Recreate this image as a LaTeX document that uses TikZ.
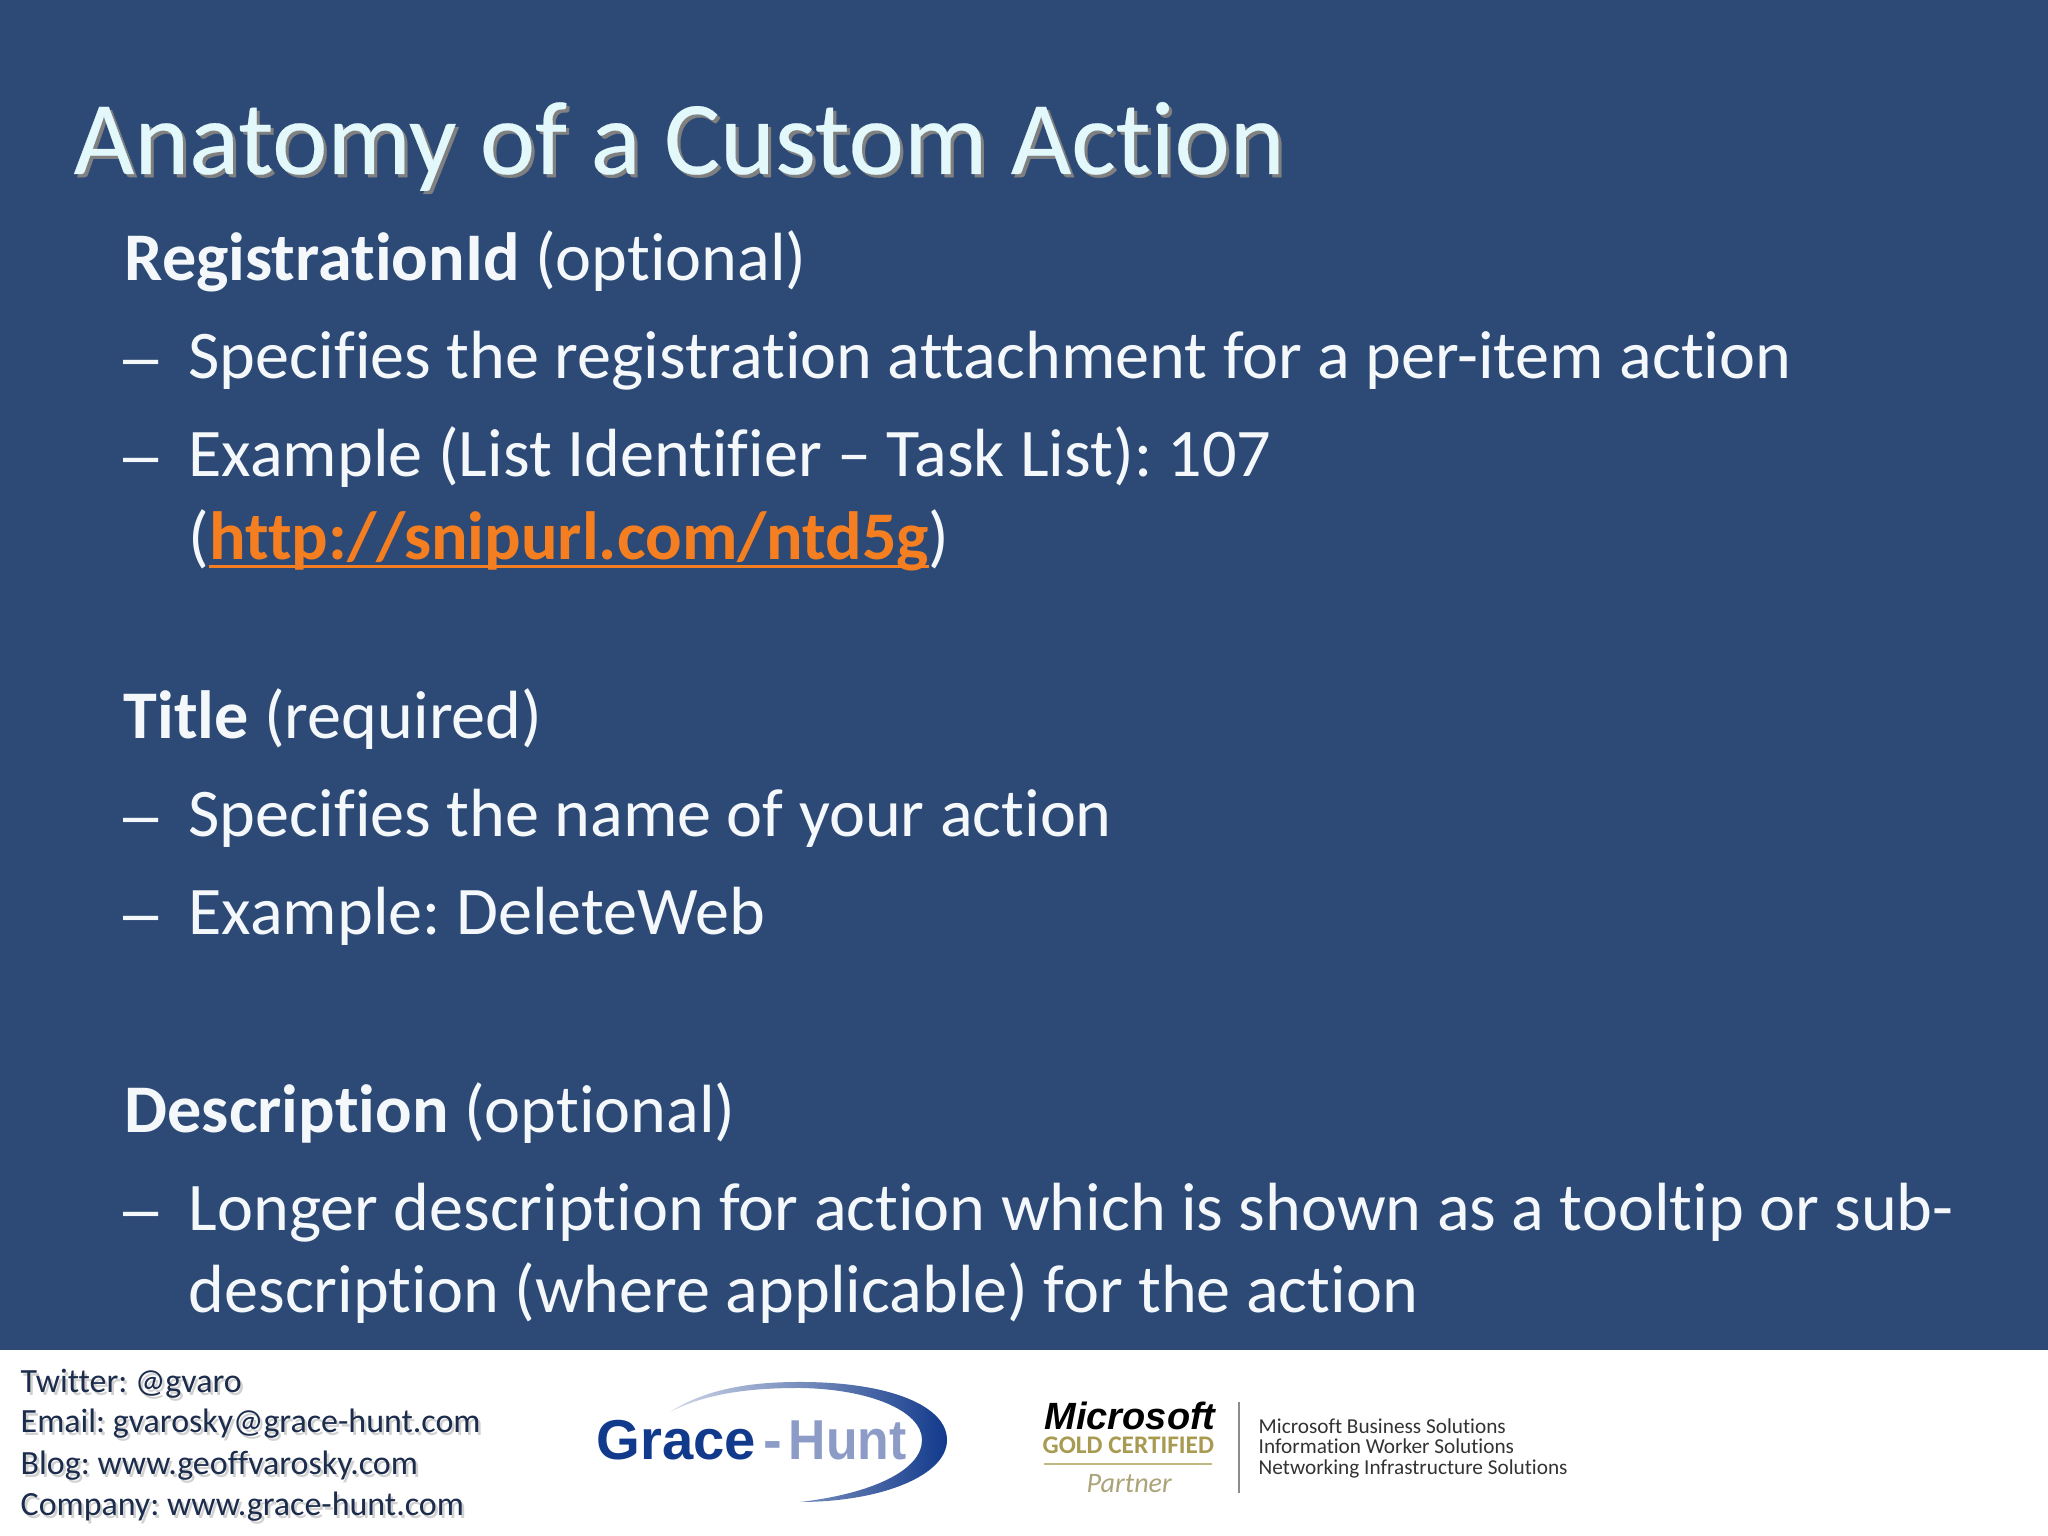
\documentclass[tikz,border=0pt]{standalone}
\usepackage{fontspec}
\setmainfont{Carlito}[RawFeature=-liga]
\newfontfamily\titlefont{Carlito}[RawFeature=-liga, FakeBold=0.25]
\newfontfamily\logofont{Liberation Sans}
\usepackage{xcolor}
\usepackage{tikz}
\usetikzlibrary{positioning}
\definecolor{slideblue}{HTML}{2D4A76}
\definecolor{titlecyan}{HTML}{E2F8FB}
\definecolor{bodywhite}{HTML}{F4F8FB}
\definecolor{linkorange}{HTML}{F57F20}
\definecolor{footnavy}{HTML}{1C2C4C}
\definecolor{logoblue}{HTML}{123A8C}
\definecolor{logohunt}{HTML}{8C9CC6}
\definecolor{logogold}{HTML}{A89A50}
\newcommand{\offsetshadow}[3]{\leavevmode\rlap{\kern#2\raisebox{-#2}{\color{#1}#3}}#3}
\newcommand{\linkrule}[1]{\setbox0\hbox{#1}\rlap{\rule[-2.4pt]{\wd0}{.9pt}}\box0}
\tikzset{
every node/.style={inner sep=0pt, anchor=base west},
slidetitle/.style={font=\fontsize{29.75}{32}\titlefont\frenchspacing, text=titlecyan},
heading/.style={font=\fontsize{19.4}{22}\selectfont\frenchspacing, text=bodywhite},
bullet/.style={font=\fontsize{19.4}{22}\selectfont\frenchspacing, text=bodywhite},
dashmark/.style={font=\fontsize{18}{22}\logofont, text=bodywhite},
contact/.style={font=\fontsize{9.65}{12}\selectfont\frenchspacing, text=footnavy},
solutions/.style={font=\fontsize{6.05}{7}\selectfont, text=black!80},
logoword/.style={font=\fontsize{16}{17}\logofont\bfseries},
}
\begin{document}
\begin{tikzpicture}
  \fill[slideblue] (0,0) rectangle (20.48,15.36);
  \fill[white] (0,0) rectangle (20.48,1.86);
  % title
  \node[slidetitle] (title) at (.73,13.62) {\offsetshadow{black!50}{.9pt}{Anatomy of a Custom Action}};
  % first block
  \node[heading] (regid) at (1.24,12.55) {\textbf{RegistrationId} (optional)};
  \node[dashmark] (regdash1) at (1.23,11.57) {–};
  \node[bullet] (regtext1) at (1.88,11.57) {Specifies the registration attachment for a per-item action};
  \node[dashmark] (regdash2) at (1.23,10.59) {–};
  \node[bullet] (regtext2) at (1.88,10.59) {Example (List Identifier – Task List): 107};
  \node[bullet] (reglink) at (1.88,9.76) {(\textcolor{linkorange}{\linkrule{\textbf{http://snipurl.com/ntd5g}}})};
  % second block
  \node[heading] (ttl) at (1.23,7.97) {\textbf{Title} (required)};
  \node[dashmark] (ttldash1) at (1.23,6.99) {–};
  \node[bullet] (ttltext1) at (1.88,6.99) {Specifies the name of your action};
  \node[dashmark] (ttldash2) at (1.23,6.01) {–};
  \node[bullet] (ttltext2) at (1.88,6.01) {Example: DeleteWeb};
  % third block
  \node[heading] (desc) at (1.24,4.03) {\textbf{Description} (optional)};
  \node[dashmark] (descdash) at (1.23,3.05) {–};
  \node[bullet] (desctext1) at (1.88,3.05) {Longer description for action which is shown as a tooltip or sub-};
  \node[bullet] (desctext2) at (1.88,2.23) {description (where applicable) for the action};
  % footer
  \node[contact] (twitter) at (.20,1.43) {\offsetshadow{black!18}{.7pt}{Twitter: @gvaro}};
  \node[contact] (email) at (.20,1.03) {\offsetshadow{black!18}{.7pt}{Email: gvarosky@grace-hunt.com}};
  \node[contact] (blog) at (.20,.61) {\offsetshadow{black!18}{.7pt}{Blog: www.geoffvarosky.com}};
  \node[contact] (company) at (.20,.20) {\offsetshadow{black!18}{.7pt}{Company: www.grace-hunt.com}};
  % grace-hunt logo
  \shade[left color=logohunt!40, right color=logoblue] (6.70,1.24) .. controls (7.1,1.5) and (7.6,1.54) .. (8.0,1.54)
    .. controls (8.9,1.54) and (9.47,1.3) .. (9.47,.96) .. controls (9.47,.6) and (8.8,.34) .. (8.0,.34)
    .. controls (8.7,.42) and (9.22,.65) .. (9.22,.96) .. controls (9.22,1.25) and (8.7,1.47) .. (8.0,1.48)
    .. controls (7.6,1.48) and (7.1,1.45) .. (6.70,1.24) -- cycle;
  \node[logoword, text=logoblue] (grace) at (5.96,.76) {Grace};
  \node[logoword, text=logohunt] (dot) at (7.63,.76) {-};
  \node[logoword, text=logohunt] (hunt) at (7.88,.76) {\scalebox{.92}[1]{Hunt}};
  % partner logo
  \node[font=\fontsize{10.8}{12}\logofont\bfseries\itshape, text=black] (ms) at (10.44,1.06) {Microsoft};
  \node[font=\fontsize{7.2}{8}\bfseries\selectfont, text=logogold] (gold) at (10.42,.82) {GOLD CERTIFIED};
  \node[font=\fontsize{8}{9}\itshape\selectfont, text=logogold!80!black!70] (partner) at (10.86,.43) {Partner};
  \coordinate (ruleleft) at (10.44,.72);
  \coordinate (ruleright) at (12.12,.72);
  \draw[logogold!70, line width=.4pt] (ruleleft) -- (ruleright);
  \coordinate (dividertop) at (12.39,1.34);
  \coordinate (dividerbot) at (12.39,.43);
  \draw[black!45, line width=.6pt] (dividertop) -- (dividerbot);
  \node[solutions] (sol1) at (12.58,1.02) {Microsoft Business Solutions};
  \node[solutions] (sol2) at (12.58,.82) {Information Worker Solutions};
  \node[solutions] (sol3) at (12.58,.61) {Networking Infrastructure Solutions};
\end{tikzpicture}
\end{document}
